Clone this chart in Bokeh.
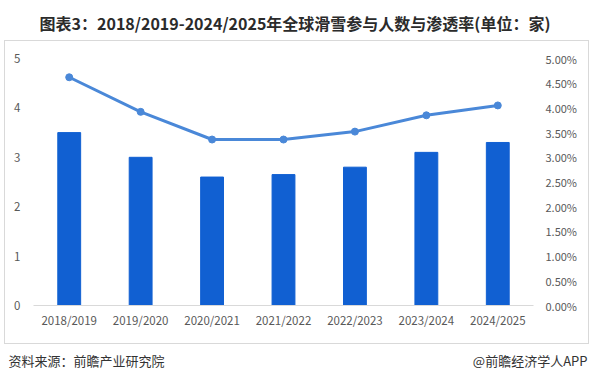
from bokeh.plotting import figure
from bokeh.layouts import column, row
from bokeh.models import (FactorRange, Range1d, LinearAxis, FixedTicker,
                          NumeralTickFormatter, ColumnDataSource)
from bokeh.core.properties import value
from bokeh.embed import file_html
from bokeh.resources import INLINE

seasons = ["2018/2019", "2019/2020", "2020/2021", "2021/2022",
           "2022/2023", "2023/2024", "2024/2025"]
participants = [3.5, 3.0, 2.6, 2.65, 2.8, 3.1, 3.3]
penetration_pct = [4.62, 3.92, 3.36, 3.36, 3.52, 3.85, 4.05]
penetration = [v / 100 for v in penetration_pct]

left_ticks = [0, 1, 2, 3, 4, 5]
right_ticks = [0.0, 0.005, 0.01, 0.015, 0.02, 0.025, 0.03, 0.035, 0.04, 0.045, 0.05]

title_text = "图表3：2018/2019-2024/2025年全球滑雪参与人数与渗透率(单位：家)"
source_text = "资料来源：前瞻产业研究院"
brand_text = "@前瞻经济学人APP"

font = "Noto Sans CJK SC"
lab_col = "#595959"
W = 589


def text_fig(h):
    f = figure(width=W, height=h, x_range=Range1d(0, W), y_range=Range1d(0, h),
               min_border=0, x_axis_type=None, y_axis_type=None,
               output_backend="svg", toolbar_location=None, tools="")
    f.outline_line_color = None
    f.grid.visible = False
    return f


# title strip
t = text_fig(40)
t.text(x=[W / 2], y=[18], text=[title_text], text_font=value(font),
       text_font_style="bold", text_font_size="16px", text_align="center",
       text_baseline="middle", text_color="#2B2B2B")

# main chart
p = figure(x_range=FactorRange(*seasons, range_padding=0), y_range=Range1d(0, 5),
           frame_width=500, frame_height=247,
           min_border_left=28, min_border_right=55, min_border_top=17, min_border_bottom=38,
           output_backend="svg", toolbar_location=None, tools="")
p.outline_line_color = None
p.xgrid.grid_line_color = None
p.ygrid.grid_line_color = None

src = ColumnDataSource(dict(x=seasons, n=participants, r=penetration))
p.vbar(x="x", top="n", width=0.32, source=src, color="#1160D2")

p.extra_y_ranges = {"pct": Range1d(0, 0.05)}
p.line(x="x", y="r", source=src, y_range_name="pct", line_color="#4A88D8", line_width=3)
p.scatter(x="x", y="r", source=src, y_range_name="pct", size=7,
          fill_color="#4A88D8", line_color="#4A88D8")

p.yaxis.ticker = FixedTicker(ticks=left_ticks)
p.yaxis.axis_line_color = None
p.yaxis.major_tick_line_color = None
p.yaxis.major_tick_out = 0
p.yaxis.minor_tick_line_color = None
p.yaxis.major_label_standoff = 13
p.yaxis.major_label_text_font = font
p.yaxis.major_label_text_font_size = "11.5px"
p.yaxis.major_label_text_color = lab_col

ry = LinearAxis(y_range_name="pct", ticker=FixedTicker(ticks=right_ticks),
                formatter=NumeralTickFormatter(format="0.00%"))
ry.axis_line_color = None
ry.major_tick_line_color = None
ry.major_tick_out = 0
ry.minor_tick_line_color = None
ry.major_label_standoff = 12
ry.major_label_text_font = font
ry.major_label_text_font_size = "11px"
ry.major_label_text_color = lab_col
p.add_layout(ry, "right")

p.xaxis.axis_line_color = "#D9D9D9"
p.xaxis.major_tick_line_color = None
p.xaxis.major_tick_out = 0
p.xaxis.minor_tick_line_color = None
p.xaxis.major_label_standoff = 6
p.xaxis.major_label_text_font = font
p.xaxis.major_label_text_font_size = "11.5px"
p.xaxis.major_label_text_color = lab_col

# footer strip
b = text_fig(38)
b.text(x=[8], y=[22], text=[source_text], text_font=value(font),
       text_font_size="13px", text_align="left", text_baseline="middle",
       text_color="#333333")
b.text(x=[W - 2], y=[22], text=[brand_text], text_font=value(font),
       text_font_size="13px", text_align="right", text_baseline="middle",
       text_color="#333333")

mid = row(p, styles={"border": "1px solid #D9D9D9", "box-sizing": "border-box",
                     "width": "585px", "height": "304px", "margin-left": "4px"})
layout = column(t, mid, b, spacing=0)
open("out.html", "w").write(file_html(layout, INLINE))
